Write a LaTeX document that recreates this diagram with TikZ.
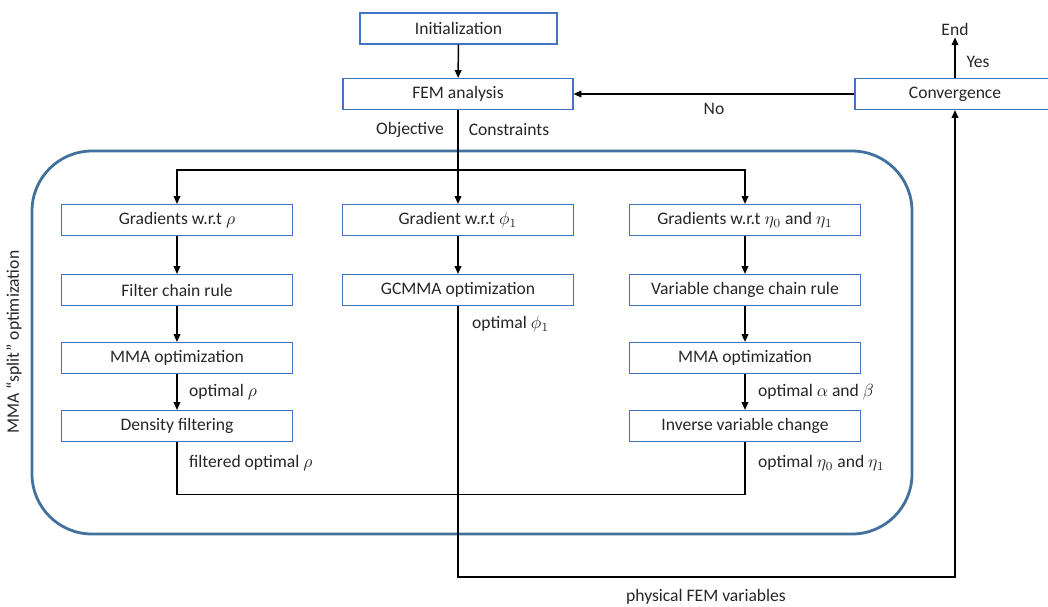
\documentclass[tikz,border=0pt]{standalone}
\usepackage{amsmath,amssymb}
\usepackage{fontspec}
\setmainfont{Carlito}
\usepackage{xcolor}
\usepackage{tikz}
\usetikzlibrary{arrows.meta,positioning}
\definecolor{boxblue}{HTML}{4472C4}
\definecolor{loopblue}{HTML}{41719C}
\definecolor{txtgray}{HTML}{262626}
\tikzset{
  procnode/.style={rectangle,draw=boxblue,line width=0.6pt,minimum width=4.62cm,minimum height=0.62cm,inner sep=1pt,font=\fontsize{10}{12}\selectfont,text=txtgray},
  lblnode/.style={inner sep=1pt,font=\fontsize{10}{12}\selectfont,text=txtgray},
  loopbox/.style={draw=loopblue,line width=1.6pt,rounded corners=1.2cm},
  flowedge/.style={-{Triangle[length=4.5pt,width=3.8pt]},line width=0.85pt,black},
  plainedge/.style={line width=0.85pt,black},
}

\begin{document}
\begin{tikzpicture}
  \useasboundingbox (0,0) rectangle (20.96,-12.12);
  % outer loop
  \node[procnode,minimum width=3.94cm] (nInit) at (9.17,-0.57) {Initialization};
  \node[procnode,minimum width=4.60cm] (nFem) at (9.16,-1.88) {FEM analysis};
  \node[procnode,minimum width=4.00cm] (nConv) at (19.10,-1.88) {Convergence};
  \node[lblnode] (nEnd) at (19.10,-0.58) {End};
  \node[lblnode] (lYes) at (19.56,-1.24) {Yes};
  \node[lblnode] (lNo) at (14.28,-2.18) {No};
  \node[lblnode] (lObj) at (8.20,-2.60) {Objective};
  \node[lblnode] (lCon) at (10.18,-2.60) {Constraints};
  \coordinate (cSplit) at (9.16,-3.40);
  \draw[flowedge] (nInit) -- (nFem);
  \draw[flowedge] (nConv) -- (nEnd);
  \draw[flowedge] (nConv) -- (nFem);

  % split optimization
  \draw[loopbox] (0.64,-3.02) rectangle (18.24,-10.68);
  \node[lblnode,rotate=90] (lSplit) at (0.28,-6.84) {MMA “split” optimization};
  \node[procnode] (nGradR) at (3.54,-4.40) {Gradients w.r.t $\rho$};
  \node[procnode] (nFilt) at (3.54,-5.80) {Filter chain rule};
  \node[procnode] (nMmaL) at (3.54,-7.16) {MMA optimization};
  \node[procnode] (nDens) at (3.54,-8.52) {Density filtering};
  \node[procnode] (nGradP) at (9.16,-4.40) {Gradient w.r.t $\phi_1$};
  \node[procnode] (nGcmma) at (9.16,-5.80) {GCMMA optimization};
  \node[procnode] (nGradE) at (14.90,-4.40) {Gradients w.r.t $\eta_0$ and $\eta_1$};
  \node[procnode] (nVar) at (14.90,-5.80) {Variable change chain rule};
  \node[procnode] (nMmaR) at (14.90,-7.16) {MMA optimization};
  \node[procnode] (nInv) at (14.90,-8.52) {Inverse variable change};
  \node[lblnode,anchor=west] (lOptR) at (3.74,-7.84) {optimal $\rho$};
  \node[lblnode,anchor=west] (lFiltR) at (3.74,-9.26) {filtered optimal $\rho$};
  \node[lblnode,anchor=west] (lOptP) at (9.40,-6.48) {optimal $\phi_1$};
  \node[lblnode,anchor=west] (lOptAB) at (15.12,-7.84) {optimal $\alpha$ and $\beta$};
  \node[lblnode,anchor=west] (lOptE) at (15.12,-9.26) {optimal $\eta_0$ and $\eta_1$};
  \draw[plainedge] (nFem) -- (cSplit);
  \draw[flowedge] (cSplit) -| (nGradR);
  \draw[flowedge] (cSplit) -- (nGradP);
  \draw[flowedge] (cSplit) -| (nGradE);
  \draw[flowedge] (nGradR) -- (nFilt);
  \draw[flowedge] (nFilt) -- (nMmaL);
  \draw[flowedge] (nMmaL) -- (nDens);
  \draw[flowedge] (nGradP) -- (nGcmma);
  \draw[flowedge] (nGradE) -- (nVar);
  \draw[flowedge] (nVar) -- (nMmaR);
  \draw[flowedge] (nMmaR) -- (nInv);
  \draw[plainedge] (nDens.south) -- ++(0,-1.05) -| (nInv.south);

  % back to convergence
  \coordinate (cBottom) at (9.16,-11.54);
  \node[lblnode] (lPhys) at (14.12,-11.94) {physical FEM variables};
  \draw[flowedge] (nGcmma) -- (cBottom) -| (nConv);
\end{tikzpicture}
\end{document}
